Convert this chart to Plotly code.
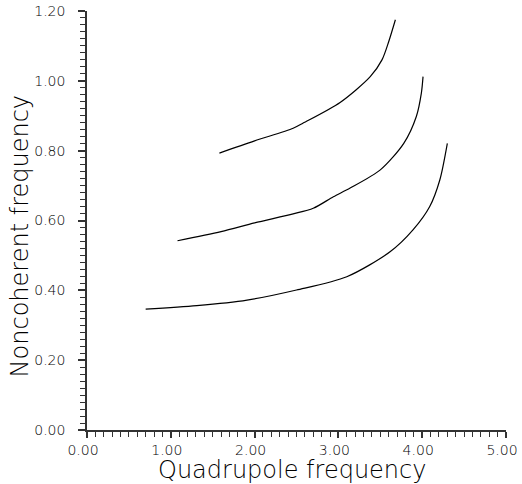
import plotly.graph_objects as go

# Curve data (Quadrupole frequency, Noncoherent frequency)
curve1_x = [1.58, 2.00, 2.46, 2.58, 3.02, 3.38, 3.52, 3.60, 3.68]
curve1_y = [0.793, 0.828, 0.864, 0.879, 0.938, 1.012, 1.060, 1.112, 1.175]

curve2_x = [1.08, 1.60, 2.00, 2.46, 2.70, 2.94, 3.14, 3.50, 3.78, 3.93, 3.99, 4.01]
curve2_y = [0.542, 0.568, 0.593, 0.619, 0.635, 0.668, 0.693, 0.745, 0.821, 0.898, 0.965, 1.012]

curve3_x = [0.70, 1.31, 1.91, 2.50, 3.10, 3.62, 3.89, 4.09, 4.21, 4.30]
curve3_y = [0.346, 0.356, 0.372, 0.401, 0.439, 0.511, 0.573, 0.640, 0.716, 0.821]

x_ticks = [0, 1, 2, 3, 4, 5]
x_labels = ["0.00", "1.00", "2.00", "3.00", "4.00", "5.00"]
y_ticks = [0, 0.2, 0.4, 0.6, 0.8, 1.0, 1.2]
y_labels = ["0.00", "0.20", "0.40", "0.60", "0.80", "1.00", "1.20"]

x_title = "Quadrupole frequency"
y_title = "Noncoherent frequency"

FONT = "DejaVu Sans"

fig = go.Figure()
for xs, ys in [(curve1_x, curve1_y), (curve2_x, curve2_y), (curve3_x, curve3_y)]:
    fig.add_trace(go.Scatter(
        x=xs, y=ys, mode="lines",
        line=dict(color="black", width=1.2, shape="spline", smoothing=0.8),
        showlegend=False, hoverinfo="skip"))

fig.update_layout(
    width=522, height=484,
    margin=dict(l=87, r=16, t=11, b=54),
    paper_bgcolor="white", plot_bgcolor="white",
    font=dict(family=FONT, color="black", size=14, weight=200),
)

fig.update_xaxes(
    range=[0, 5], showgrid=False, zeroline=False, automargin=False,
    showline=True, linecolor="#333", linewidth=1.5,
    tickmode="array", tickvals=x_ticks, ticktext=x_labels,
    ticks="outside", ticklen=6, tickwidth=1.5, tickcolor="#333",
    ticklabelshift=-4, ticklabeloverflow="allow",
    tickfont=dict(family=FONT, size=14, weight=200),
    minor=dict(dtick=0.1, ticks="outside", ticklen=5, tickwidth=1.2, tickcolor="#333"),
)
fig.update_yaxes(
    range=[0, 1.2], showgrid=False, zeroline=False, automargin=False,
    showline=True, linecolor="#333", linewidth=1.5,
    tickmode="array", tickvals=y_ticks, ticktext=y_labels,
    ticks="outside", ticklen=7, tickwidth=1.5, tickcolor="#333",
    ticklabelstandoff=10, ticklabeloverflow="allow",
    tickfont=dict(family=FONT, size=14, weight=200),
    minor=dict(dtick=0.02, ticks="outside", ticklen=5, tickwidth=1.2, tickcolor="#333"),
)

# axis titles placed as annotations to match the reference's positions
fig.add_annotation(
    text=x_title, xref="paper", yref="paper", x=0.49, y=-0.095,
    xanchor="center", yanchor="middle", showarrow=False,
    font=dict(family=FONT, size=24, weight=200, color="black"))
fig.add_annotation(
    text=y_title, xref="paper", yref="paper", x=-0.160, y=0.462,
    xanchor="center", yanchor="middle", textangle=-90, showarrow=False,
    font=dict(family=FONT, size=24, weight=200, color="black"))

# remove the browser's default 8px body margin so the figure fills the window
fig.write_html("out.html", config={"displayModeBar": False},
               post_script="document.body.style.margin='0px';")
